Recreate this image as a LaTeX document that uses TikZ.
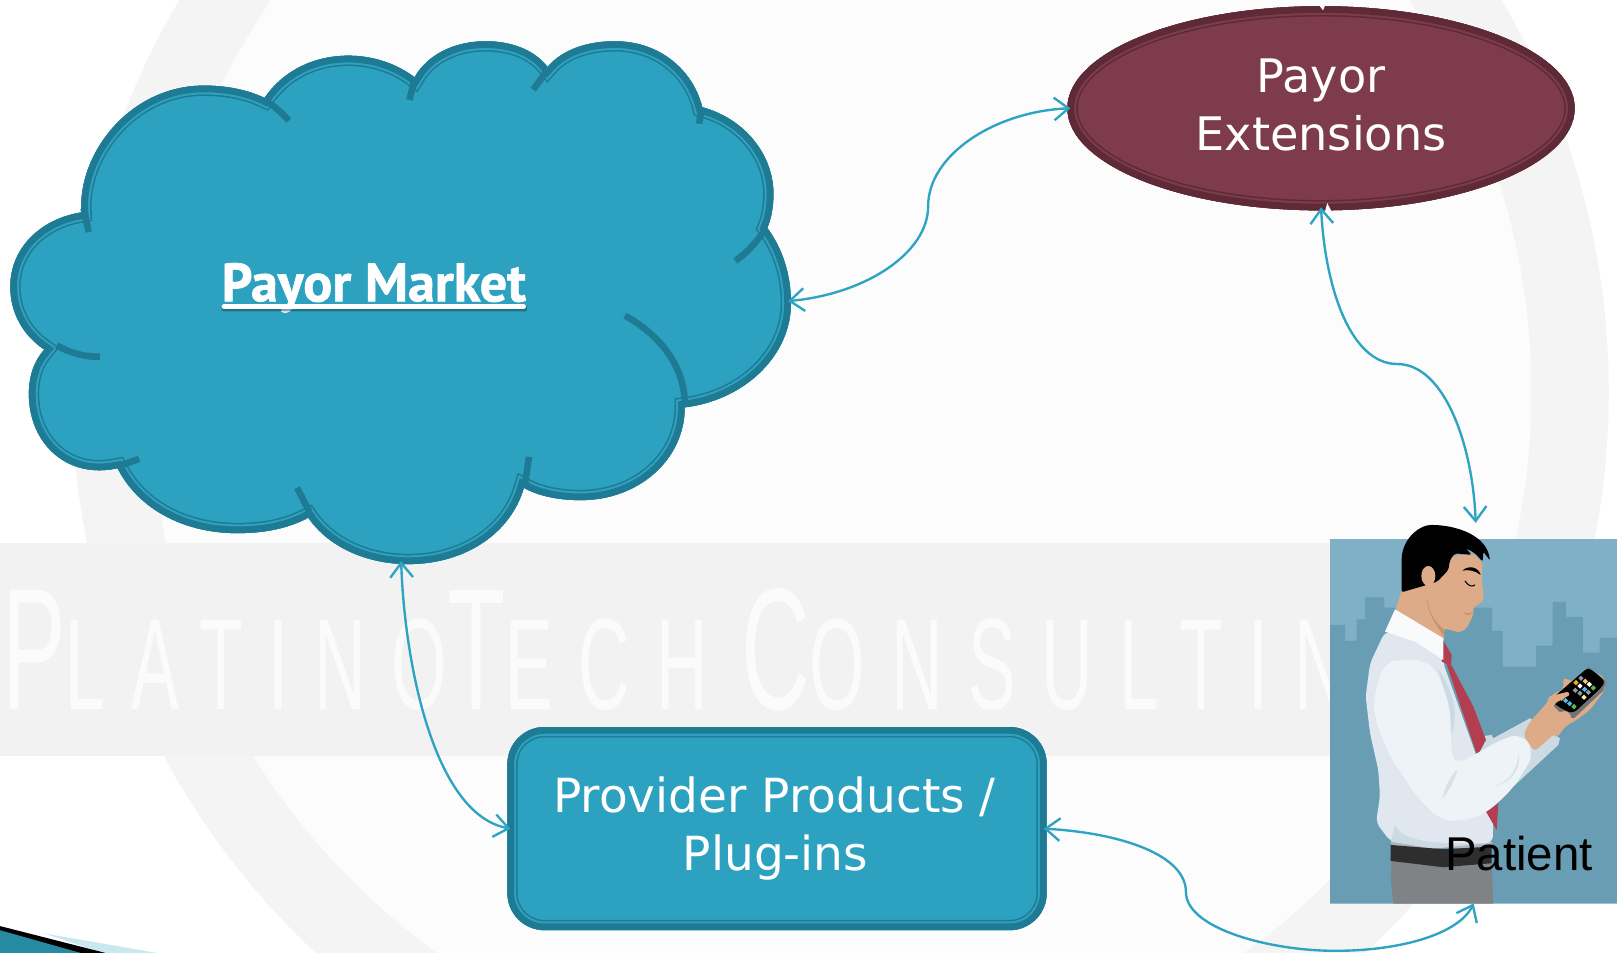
\documentclass[tikz,border=0pt]{standalone}
\usepackage{fontspec}
\setmainfont{DejaVu Sans}
\newfontfamily\boldf[BoldFeatures={FakeBold=1.2}]{PT Sans}
\newfontfamily\arialf{Liberation Sans}
\newfontfamily\wmf[LetterSpace=36]{Liberation Sans}
\usetikzlibrary{arrows.meta,shapes.geometric}
\definecolor{teal1}{HTML}{2DA2C0}
\definecolor{teal2}{HTML}{1F7A94}
\definecolor{wine1}{HTML}{7D3B4B}
\definecolor{wine2}{HTML}{5E2A37}
\definecolor{conn}{HTML}{2FA3C2}
\definecolor{sky}{HTML}{7FB0C5}
\definecolor{city}{HTML}{689DB3}
\definecolor{skin}{HTML}{DDAB88}
\definecolor{skind}{HTML}{C9906E}
\definecolor{shirt}{HTML}{E0E7EE}
\definecolor{shirtl}{HTML}{EEF3F7}
\definecolor{shirtd}{HTML}{CCDAE4}
\definecolor{tiec}{HTML}{B23E50}
\definecolor{pants}{HTML}{808285}
\definecolor{ringc}{HTML}{F4F4F4}
\definecolor{innerc}{HTML}{FCFCFC}
\definecolor{markc}{HTML}{FBFBFB}
\definecolor{iconor}{HTML}{F5A623}
\definecolor{iconlo}{HTML}{F2C078}
\definecolor{iconcy}{HTML}{55B8E8}
\definecolor{icongr}{HTML}{58B848}
\definecolor{icongy}{HTML}{8E98A6}
\definecolor{iconye}{HTML}{F5EFA0}
\newcommand\ringshape[3]{\begin{scope}\clip #1; \fill[#2] #1; \draw[#3,line width=10pt] #1; \draw[#2,line width=8.5pt] #1; \draw[#3,line width=6.5pt] #1; \end{scope}}
\newcommand\cloudpath{(79,206) .. controls (75,150) and (125,83) .. (198,83) .. controls (222,83) and (242,88) .. (256.5,95)
 .. controls (275,68) and (305,54) .. (338,54) .. controls (362,54) and (385,62) .. (402,75)
 .. controls (415,52) and (442,40) .. (471,40) .. controls (495,40) and (518,48) .. (531,65)
 .. controls (545,48) and (570,40) .. (596,40) .. controls (640,40) and (672,68) .. (681,104)
 .. controls (722,115) and (750,150) .. (750,188) .. controls (750,200) and (748,212) .. (744,221)
 .. controls (758,240) and (767,265) .. (767,294) .. controls (767,345) and (722,388) .. (664,395)
 .. controls (664,445) and (620,485) .. (563,485) .. controls (542,485) and (522,481) .. (508,473)
 .. controls (495,518) and (450,547) .. (396,547) .. controls (355,547) and (318,530) .. (299,502)
 .. controls (280,512) and (258,517) .. (230,517) .. controls (180,517) and (135,495) .. (114,454)
 .. controls (65,465) and (28,430) .. (28,382) .. controls (28,365) and (33,350) .. (43,339)
 .. controls (22,325) and (10,303) .. (10,278) .. controls (10,240) and (40,212) .. (79,206) -- cycle}
\tikzset{
  link/.style={draw=conn,line width=1.15pt,{Straight Barb[length=7pt,width=11pt]}-{Straight Barb[length=7pt,width=11pt]}},
  fold/.style={draw=teal2,line width=3.2pt},
  labelE/.style={text=white,font=\fontsize{22.4}{28}\selectfont,align=center,inner sep=0pt},
  labelB/.style={text=white,font=\fontsize{22.8}{28}\selectfont,align=center,inner sep=0pt},
}
\begin{document}
\begin{tikzpicture}[x=0.5pt,y=-0.5pt]
\useasboundingbox (0,0) rectangle (1568,924);
% background and watermark
\fill[white] (0,0) rectangle (1568,924);
\begin{scope}
\clip (0,0) rectangle (1568,924);
\fill[ringc] (815,380) circle[radius=745];
\fill[innerc] (815,380) circle[radius=670];
\fill[black!5] (0,527) rectangle (1568,733);
\node[anchor=base west,inner sep=0pt,text=markc,xscale=0.55,font=\wmf\fontsize{46}{46}\selectfont] (mark) at (2,688)
 {{\fontsize{84}{84}\selectfont P}{\fontsize{63}{63}\selectfont LATINO}{\fontsize{84}{84}\selectfont T}{\fontsize{63}{63}\selectfont ECH}\ {\fontsize{84}{84}\selectfont C}{\fontsize{63}{63}\selectfont ONSULTIN}};
\end{scope}
% corner
\fill[teal1!25] (42,905) -- (152,924) -- (100,924) -- cycle;
\fill[black] (0,898) -- (102,924) -- (0,924) -- cycle;
\fill[teal1!85!black] (0,902) -- (78,924) -- (0,924) -- cycle;
% cloud
\ringshape{\cloudpath}{teal1}{teal2}
\draw[fold] (258,98) .. controls (266,103) and (273,109) .. (280,117);
\draw[fold] (81,202) -- (86,225);
\draw[fold] (402,77) -- (397,97);
\draw[fold] (531,68) -- (517,87);
\draw[fold] (680,107) -- (678,120);
\draw[fold] (741,224) .. controls (733,235) and (725,245) .. (713,253);
\draw[fold] (606,306) .. controls (640,325) and (664,355) .. (664,392);
\draw[fold] (513,443) -- (509,470);
\draw[fold] (288,473) -- (300,496);
\draw[fold] (135,445) -- (115,452);
\draw[fold] (97,346) .. controls (80,346) and (68,342) .. (55,335);
\node[inner sep=0pt,text=white,font=\boldf\bfseries\fontsize{26.2}{28}\selectfont] (market) at (362.5,279) {Payor Market};
\fill[black!45!teal2,opacity=.5,rounded corners=1pt] (215,296) rectangle (511,302);
\fill[white,rounded corners=1pt] (215,295) rectangle (510,299.5);
\coordinate (cloudE) at (764,292);
\coordinate (cloudS) at (389,544);
% ellipse
\ringshape{(1281,105) ellipse [x radius=246,y radius=99]}{wine1}{wine2}
\fill[white] (1279,5) -- (1285,5) -- (1283,10) -- cycle;
\fill[white] (1285,204.5) -- (1291,204.5) -- (1287,197) -- cycle;
\node[shape=ellipse,minimum width=246pt,minimum height=99pt,inner sep=0pt,outer sep=-1.5pt] (ext) at (1281,105) {};
\node[labelE,anchor=base] at (1281,90) {Payor};
\node[labelE,anchor=base] at (1281,146) {Extensions};
% box
\ringshape{[rounded corners=18pt] (492,705) rectangle (1015,902)}{teal1}{teal2}
\node[minimum width=261.5pt,minimum height=98.5pt,inner sep=0pt,outer sep=-1.5pt] (prov) at (753.5,803.5) {};
\node[labelB,anchor=base] at (751,788) {Provider Products /};
\node[labelB,anchor=base] at (752,844) {Plug-ins};
% person panel
\node[fill=sky,minimum width=139pt,minimum height=176.5pt,inner sep=0pt,outer sep=0pt] (pic) at (1429,699.5) {};
\coordinate (head) at (1431,507);
\begin{scope}[shift={(1260.6,484.8)},x=0.1616pt,y=-0.1616pt]
\fill[city] (90,375) -- (135,375) -- (135,423) -- (170,423) -- (170,358) -- (195,358) -- (195,292) -- (253,292) -- (253,323) -- (576,323) -- (576,393) -- (608,393) -- (608,500) -- (708,500) -- (708,437) -- (758,437) -- (758,306) -- (798,306) -- (798,351) -- (849,351) -- (849,458) -- (899,458) -- (899,414) -- (951,414) -- (951,1211) -- (90,1211) -- cycle;
% pants and belt
\fill[pants] (275,1083) -- (430,1102) -- (575,1090) -- (580,1211) -- (280,1211) -- (272,1130) -- cycle;
\fill[shirtd!60!gray] (272,1025) -- (575,1025) -- (575,1045) -- (272,1045) -- cycle;
\fill[black!82] (272,1035) -- (430,1048) -- (575,1040) -- (575,1090) -- (430,1102) -- (272,1083) -- cycle;
% far sleeve
\fill[shirtd] (540,710) -- (575,705) -- (580,715) -- (690,655) -- (780,715) -- (775,735) -- (640,860) -- (590,900) -- (560,930) -- (500,900) -- cycle;
% skin: head and neck
\fill[skin,rounded corners=1.5pt] (450,170) -- (520,160) -- (548,190) -- (545,240) -- (552,295) -- (540,312) -- (520,320) -- (520,345) -- (500,385) -- (480,398) -- (450,390) -- (432,385) -- (432,425) -- (285,335) -- (305,270) -- (380,240) -- cycle;
\fill[skind] (380,290) .. controls (380,340) and (410,375) .. (432,410) -- (432,388) .. controls (400,365) and (385,330) .. (380,290) -- cycle;
\fill[skind] (490,335) .. controls (500,342) and (510,342) .. (520,335) .. controls (510,350) and (498,348) .. (490,335) -- cycle;
% hair
\fill[black,rounded corners=1pt] (305,277) -- (305,170) .. controls (315,110) and (360,75) .. (400,75) .. controls (470,78) and (560,105) .. (570,182) -- (550,155) -- (548,185) -- (525,160) -- (498,145) -- (515,165) -- (465,160) -- (450,180) -- (445,210) -- (412,245) -- (380,255) -- cycle;
\fill[skin] (385,228) ellipse [x radius=21,y radius=30];
\fill[black] (487,212) .. controls (505,195) and (535,200) .. (542,225) .. controls (525,212) and (505,208) .. (487,212) -- cycle;
\draw[black,line width=.5pt] (495,243) .. controls (505,258) and (515,262) .. (525,255);
% torso
\fill[shirt,rounded corners=3pt] (255,395) -- (210,490) -- (197,590) -- (210,700) -- (235,810) -- (240,890) -- (228,968) -- (272,1025) -- (400,1045) -- (578,1028) -- (580,960) -- (556,935) -- (530,770) -- (430,490) -- (430,415) -- cycle;
\fill[shirtd] (285,975) .. controls (300,1015) and (380,1040) .. (578,1028) -- (400,1045) -- (272,1025) -- cycle;
\fill[shirtd] (410,500) .. controls (450,560) and (485,630) .. (450,715) .. controls (450,640) and (435,560) .. (410,500) -- cycle;
% tie
\fill[tiec] (430,422) -- (455,465) -- (453,498) -- (425,485) -- cycle;
\fill[tiec] (440,493) -- (455,497) -- (520,620) -- (558,720) -- (532,768) -- cycle;
\fill[tiec] (558,935) -- (595,910) -- (590,990) -- cycle;
% lit part of shirt
\fill[shirtl,rounded corners=6pt] (220,600) -- (250,490) -- (300,478) -- (370,480) -- (410,510) -- (450,620) -- (455,780) -- (470,795) -- (610,715) -- (670,700) -- (703,760) -- (680,800) -- (650,850) -- (600,905) -- (540,950) -- (470,965) -- (420,960) -- (350,890) -- (270,770) -- (225,660) -- cycle;
\fill[shirtd!70!shirtl] (427,895) .. controls (435,860) and (450,830) .. (472,808) .. controls (465,840) and (450,870) .. (427,895) -- cycle;
\fill[shirtd!70!shirtl] (575,862) .. controls (620,850) and (650,820) .. (655,765) .. controls (665,810) and (630,850) .. (575,862) -- cycle;
% collar
\fill[white!60!shirtl] (285,328) -- (430,415) -- (430,480) -- (345,425) -- (255,395) -- cycle;
% hand behind the phone
\fill[skin,rounded corners=2pt] (670,705) -- (690,665) -- (740,610) -- (760,580) -- (790,570) -- (790,530) -- (810,545) -- (850,530) -- (900,520) -- (915,540) -- (915,570) -- (870,630) -- (830,660) -- (795,680) -- (770,715) -- (765,700) -- (703,755) -- cycle;
% phone
\fill[black!55] (865,502) -- (918,545) -- (910,572) -- (822,655) -- (790,648) -- (755,612) -- cycle;
\fill[black,rounded corners=2pt] (865,502) -- (916,543) -- (905,562) -- (820,640) -- (795,632) -- (757,608) -- (757,595) -- cycle;
\foreach \x/\y/\c in {843/535/icongy,828/548/iconor,856/544/iconlo,868/553/white,840/558/white,854/568/iconcy,880/564/icongr,826/571/icongy,865/577/icongy,840/580/icongy,852/592/iconye,785/595/iconor,797/602/iconcy,809/611/iconcy,822/620/icongr}
  \fill[\c] (\x-8,\y) -- (\x,\y-8) -- (\x+8,\y) -- (\x,\y+8) -- cycle;
% finger on the phone
\fill[skin,rounded corners=1pt] (745,590) -- (805,575) -- (810,585) -- (765,610) -- (755,630) -- (735,650) -- cycle;
\fill[skin,rounded corners=1pt] (765,640) -- (800,632) -- (815,650) -- (790,680) -- (760,665) -- cycle;
\end{scope}
\node[anchor=base east,inner sep=0pt,text=black,font=\arialf\fontsize{23}{23}\selectfont] (patient) at (1545,844) {Patient};
% connectors
\draw[link] (cloudE) .. controls (840,285) and (900,245) .. (900,200) .. controls (900,150) and (965,108) .. (ext.west);
\draw[link] (ext.south) .. controls (1285,280) and (1310,353) .. (1355,353) .. controls (1400,353) and (1428,430) .. (head);
\draw[link] (cloudS) .. controls (392,640) and (420,790) .. (prov.west);
\draw[link] (prov.east) .. controls (1090,808) and (1150,830) .. (1150,865) .. controls (1150,900) and (1230,922) .. (1295,922) .. controls (1360,922) and (1415,905) .. (pic.south);
\end{tikzpicture}
\end{document}
